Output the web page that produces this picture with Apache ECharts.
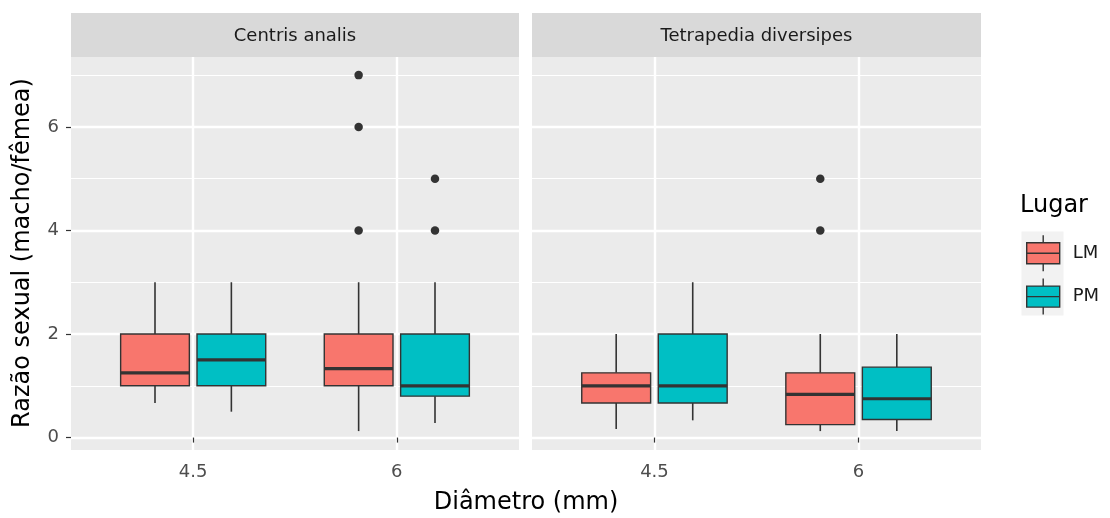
<!DOCTYPE html>
<html>
<head>
<meta charset="utf-8">
<script src="https://cdn.jsdelivr.net/npm/echarts@6/dist/echarts.min.js"></script>
<style>
  html, body { margin: 0; padding: 0; background: #ffffff; }
  #chart { width: 1110px; height: 518px; }
</style>
</head>
<body>
<div id="chart"></div>
<script>
// ---------------- data ----------------
const categories = ['4.5', '6'];
const facets = ['Centris analis', 'Tetrapedia diversipes'];
const groups = ['LM', 'PM'];
// [lower whisker, Q1, median, Q3, upper whisker] for each category
const centrisLM = [[0.667, 1, 1.25, 2, 3], [0.125, 1, 1.333, 2, 3]];
const centrisPM = [[0.5, 1, 1.5, 2, 3], [0.28, 0.8, 1, 2, 3]];
const tetraLM = [[0.167, 0.667, 1, 1.25, 2], [0.125, 0.25, 0.833, 1.25, 2]];
const tetraPM = [[0.333, 0.667, 1, 2, 3], [0.125, 0.35, 0.75, 1.36, 2]];
// outliers for each category
const centrisLMOut = [[], [4, 6, 7]];
const centrisPMOut = [[], [4, 5]];
const tetraLMOut = [[], [4, 5]];
const tetraPMOut = [[], []];
const yTicks = [0, 2, 4, 6];
const yMinorTicks = [1, 3, 5, 7];
const xTicks = [1, 2];

// ---------------- style / layout ----------------
const FONT = 'DejaVu Sans';
const COLORS = { LM: '#F8766D', PM: '#00BFC4' };
const DODGE = { LM: -0.1875, PM: 0.1875 };
const BOX_W = 0.3375;
const OUTLINE = '#333333';
const panelStats = [
  { LM: centrisLM, PM: centrisPM, LMOut: centrisLMOut, PMOut: centrisPMOut },
  { LM: tetraLM, PM: tetraPM, LMOut: tetraLMOut, PMOut: tetraPMOut }
];
const GRIDS = [
  { left: 71, top: 57, width: 448, height: 393 },
  { left: 532, top: 57, width: 449, height: 393 }
];
const Y_MIN = -0.24, Y_MAX = 7.35;

function renderBox(params, api) {
  const x = api.value(0);
  const lo = api.value(1), q1 = api.value(2), med = api.value(3), q3 = api.value(4), hi = api.value(5);
  const pTL = api.coord([x - BOX_W / 2, q3]);
  const pBR = api.coord([x + BOX_W / 2, q1]);
  const pHi = api.coord([x, hi]);
  const pLo = api.coord([x, lo]);
  const pMed = api.coord([x, med]);
  const color = api.visual('color');
  return {
    type: 'group',
    children: [
      { type: 'line', shape: { x1: pHi[0], y1: pHi[1], x2: pHi[0], y2: pTL[1] }, style: { stroke: OUTLINE, lineWidth: 1.6 } },
      { type: 'line', shape: { x1: pLo[0], y1: pBR[1], x2: pLo[0], y2: pLo[1] }, style: { stroke: OUTLINE, lineWidth: 1.6 } },
      { type: 'rect', shape: { x: pTL[0], y: pTL[1], width: pBR[0] - pTL[0], height: pBR[1] - pTL[1] },
        style: { fill: color, stroke: OUTLINE, lineWidth: 1.4 } },
      { type: 'line', shape: { x1: pTL[0], y1: pMed[1], x2: pBR[0], y2: pMed[1] }, style: { stroke: OUTLINE, lineWidth: 3.2 } }
    ]
  };
}

const grid = GRIDS.map(g => Object.assign({ show: true, backgroundColor: '#EBEBEB', borderWidth: 0 }, g));

const xAxis = GRIDS.map((g, i) => ({
  type: 'value', gridIndex: i, min: 0.4, max: 2.6,
  axisLine: { show: false },
  axisTick: { show: true, length: 5, lineStyle: { color: OUTLINE, width: 1.2 }, customValues: xTicks },
  axisLabel: { customValues: xTicks, formatter: v => categories[Math.round(v) - 1], color: '#4D4D4D',
               fontSize: 18, fontFamily: FONT, margin: 13 },
  splitLine: { show: true, lineStyle: { color: '#FFFFFF', width: 2.4 } }
}));

const yAxis = [];
GRIDS.forEach((g, i) => {
  yAxis.push({
    type: 'value', gridIndex: i, min: Y_MIN, max: Y_MAX,
    axisLine: { show: false },
    axisTick: { show: i === 0, length: 5, lineStyle: { color: OUTLINE, width: 1.2 }, customValues: yTicks },
    axisLabel: { show: i === 0, customValues: yTicks, color: '#4D4D4D', fontSize: 18, fontFamily: FONT, margin: 12 },
    splitLine: { show: true, lineStyle: { color: '#FFFFFF', width: 2.4 } }
  });
});
GRIDS.forEach((g, i) => {
  yAxis.push({
    type: 'value', gridIndex: i, min: Y_MIN, max: Y_MAX,
    axisLine: { show: false },
    axisTick: { show: false, customValues: yMinorTicks },
    axisLabel: { show: false, customValues: yMinorTicks },
    splitLine: { show: true, lineStyle: { color: '#FFFFFF', width: 1.1 } }
  });
});

const series = [];
panelStats.forEach((p, f) => {
  groups.forEach(gname => {
    series.push({
      name: gname, type: 'custom', xAxisIndex: f, yAxisIndex: f,
      itemStyle: { color: COLORS[gname], borderColor: OUTLINE, borderWidth: 1.3 },
      encode: { x: 0, y: [1, 2, 3, 4, 5] },
      data: p[gname].map((s, ci) => [ci + 1 + DODGE[gname]].concat(s)),
      renderItem: renderBox,
      z: 3
    });
  });
  groups.forEach(gname => {
    const pts = [];
    p[gname + 'Out'].forEach((arr, ci) => arr.forEach(v => pts.push([ci + 1 + DODGE[gname], v])));
    series.push({
      name: gname + ' outliers', type: 'scatter', xAxisIndex: f, yAxisIndex: f,
      symbol: 'circle', symbolSize: 8.5, itemStyle: { color: OUTLINE, opacity: 1 },
      data: pts, z: 4
    });
  });
});

const KEY_PATH = 'path://M0,7.5 L33,7.5 L33,28.5 L0,28.5 Z M16.5,0 L16.5,7.5 M16.5,28.5 L16.5,36 M0,18 L33,18';

const graphic = [];
GRIDS.forEach((g, i) => {
  graphic.push({ type: 'rect', z: 1, shape: { x: g.left, y: 13, width: g.width, height: 44 }, style: { fill: '#D9D9D9' } });
  graphic.push({ type: 'text', z: 2, x: g.left + g.width / 2, y: 36,
    style: { text: facets[i], fontSize: 18, fontFamily: FONT, fill: '#1A1A1A', align: 'center', verticalAlign: 'middle' } });
});
graphic.push({ type: 'rect', z: 0, shape: { x: 1021.5, y: 231.5, width: 42, height: 84 }, style: { fill: '#F2F2F2' } });
graphic.push({ type: 'text', x: 526, y: 503,
  style: { text: 'Diâmetro (mm)', fontSize: 24, fontFamily: FONT, fill: '#000000', align: 'center', verticalAlign: 'middle' } });
graphic.push({ type: 'text', x: 23, y: 253, rotation: Math.PI / 2,
  style: { text: 'Razão sexual (macho/fêmea)', fontSize: 24, fontFamily: FONT, fill: '#000000', align: 'center', verticalAlign: 'middle' } });

const option = {
  animation: false,
  backgroundColor: '#FFFFFF',
  title: { text: 'Lugar', left: 1020, top: 194, padding: 0,
           textStyle: { fontSize: 24, fontWeight: 'normal', fontFamily: FONT, color: '#000000' } },
  legend: {
    orient: 'vertical', left: 1026, top: 234.5, padding: 0,
    itemWidth: 33, itemHeight: 36, itemGap: 6, selectedMode: false,
    data: groups.map(g => ({ name: g, icon: KEY_PATH, itemStyle: { color: COLORS[g], borderColor: OUTLINE, borderWidth: 1.4 } })),
    textStyle: { fontSize: 18, fontFamily: FONT, color: '#1A1A1A', padding: [0, 0, 0, 8] }
  },
  grid, xAxis, yAxis, series, graphic
};

const chart = echarts.init(document.getElementById('chart'), null, { renderer: 'canvas' });
chart.setOption(option);
</script>
</body>
</html>
